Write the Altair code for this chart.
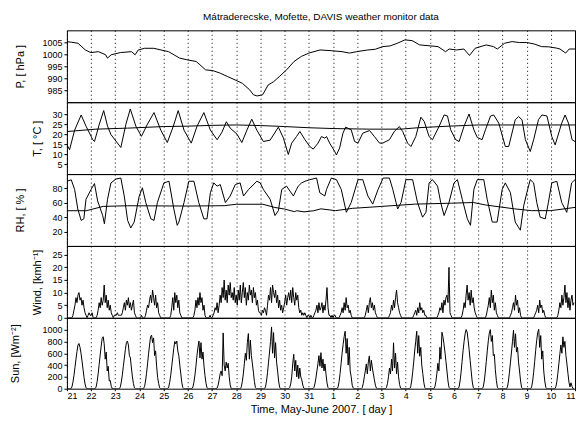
import altair as alt
import pandas as pd

TITLE = "Mátraderecske, Mofette, DAVIS weather monitor data"
XTITLE = "Time, May-June 2007. [ day ]"
day_ticks = list(range(22))  # days since 21 May 2007 00:00

# ---- Pressure [hPa]
P_t = [0, 0.2, 0.46, 0.76, 0.99, 1.30, 1.60, 1.68, 1.83, 2.21, 2.67, 2.82, 2.95, 3.21, 3.59,
       3.89, 4.20, 4.66, 4.96, 5.34, 5.50, 5.73, 6.03, 6.34, 6.64, 6.95, 7.25, 7.56, 7.71, 7.86,
       8.09, 8.32, 8.55, 8.78, 9.08, 9.39, 9.69, 10.0, 10.46, 10.92, 11.37, 11.68, 11.98, 12.44,
       12.75, 13.05, 13.36, 13.66, 13.97, 14.27, 14.58, 15.04, 15.34, 15.65, 15.80, 16.11, 16.41,
       16.64, 16.87, 17.33, 17.63, 17.79, 18.09, 18.40, 18.70, 19.01, 19.31, 19.62, 19.92, 20.23,
       20.38, 20.61, 20.76, 21.0]
P_v = [1005.3, 1005.0, 1004.6, 1001.8, 1000.7, 1001.1, 999.8, 998.4, 999.8, 1000.7, 1001.1, 999.8,
       1001.8, 1002.5, 1002.5, 1001.8, 1001.1, 998.4, 997.7, 997.0, 995.6, 993.5, 993.2, 992.1,
       990.7, 989.3, 987.9, 985.1, 983.1, 982.6, 983.1, 987.2, 988.6, 990.7, 993.5, 997.0, 999.1,
       1000.5, 1001.8, 1001.5, 1001.1, 1000.5, 1001.1, 1001.8, 1002.1, 1003.2, 1003.5, 1004.6,
       1006.0, 1005.7, 1003.9, 1003.5, 1003.2, 1001.1, 1002.2, 1001.8, 1002.2, 999.5, 1002.5,
       1003.9, 1003.2, 1002.2, 1004.6, 1005.3, 1004.9, 1004.9, 1004.3, 1003.2, 1003.1, 1002.6,
       1002.2, 1000.5, 1002.2, 1002.2]

# ---- Temperature [°C]
T_t = [0.00, 0.11, 0.32, 0.59, 0.79, 1.07, 1.14, 1.34, 1.52, 1.68,
       1.82, 2.23, 2.44, 2.62, 2.85, 3.08, 3.33, 3.60, 3.88, 4.15,
       4.40, 4.60, 4.84, 5.14, 5.38, 5.66, 5.93, 6.21, 6.41, 6.59,
       6.75, 7.03, 7.23, 7.44, 7.64, 7.85, 8.12, 8.40, 8.74, 8.95,
       9.15, 9.29, 9.49, 9.63, 9.84, 10.04, 10.18, 10.38, 10.52, 10.66,
       10.73, 10.86, 11.07, 11.14, 11.27, 11.41, 11.52, 11.75, 11.89, 12.03,
       12.23, 12.51, 12.71, 12.92, 13.05, 13.33, 13.53, 13.74, 13.88, 14.08,
       14.22, 14.42, 14.63, 14.77, 14.97, 15.11, 15.38, 15.59, 15.73, 15.86,
       16.07, 16.21, 16.41, 16.62, 16.82, 16.96, 17.16, 17.30, 17.51, 17.64,
       17.85, 18.12, 18.26, 18.53, 18.67, 18.81, 18.95, 19.15, 19.29, 19.49,
       19.63, 19.84, 20.04, 20.18, 20.45, 20.59, 20.73, 20.88, 21.00]
T_v = [14.7, 12.2, 22.0, 29.6, 24.0, 17.2, 16.3, 25.0, 31.8, 24.0,
       19.8, 13.3, 25.0, 32.6, 24.0, 18.9, 25.0, 30.8, 22.0, 15.8,
       24.0, 31.8, 22.0, 15.5, 24.0, 30.8, 22.0, 17.2, 21.0, 26.2,
       23.0, 20.0, 15.8, 22.0, 27.5, 22.0, 16.3, 17.0, 23.5, 18.0,
       9.8, 15.5, 18.8, 21.3, 17.2, 13.8, 12.5, 15.5, 18.8, 18.0,
       18.8, 15.5, 11.3, 9.6, 13.0, 20.5, 23.5, 22.2, 16.3, 15.5,
       20.5, 21.8, 18.8, 15.5, 15.5, 17.2, 21.3, 23.8, 21.3, 15.5,
       13.8, 18.8, 28.5, 26.3, 18.8, 17.2, 23.8, 29.6, 29.1, 22.2,
       17.2, 16.3, 23.8, 30.1, 22.2, 18.4, 17.2, 22.2, 29.1, 29.6,
       25.5, 13.8, 13.8, 27.2, 28.8, 27.2, 17.2, 11.3, 17.2, 27.2,
       29.6, 29.1, 18.8, 14.6, 25.5, 29.6, 25.5, 17.2, 16.3]
T2_t = [0, 1.2, 2.5, 4, 5, 6, 7, 8, 9, 10, 11, 12.5, 13.8, 14.5, 15.8, 17, 18.5, 20, 21]
T2_v = [21.3, 22.5, 23.0, 23.8, 24.0, 24.4, 24.6, 24.3, 23.8, 23.2, 22.8, 22.5, 22.5, 23.2,
        24.0, 24.6, 24.6, 24.6, 24.6]

# ---- Relative humidity [%]
RH_t = [0.00, 0.18, 0.32, 0.45, 0.59, 0.70, 0.79, 1.00, 1.14, 1.27,
        1.48, 1.55, 1.68, 1.82, 2.03, 2.23, 2.37, 2.51, 2.64, 2.78,
        2.99, 3.12, 3.26, 3.47, 3.60, 3.74, 4.01, 4.22, 4.42, 4.56,
        4.63, 4.84, 5.04, 5.25, 5.45, 5.66, 5.79, 5.93, 6.07, 6.21,
        6.34, 6.55, 6.75, 6.96, 7.16, 7.30, 7.51, 7.85, 7.99, 8.12,
        8.40, 8.60, 8.74, 8.88, 9.08, 9.22, 9.36, 9.49, 9.56, 9.70,
        9.84, 10.04, 10.32, 10.45, 10.66, 10.73, 10.93, 11.14, 11.34, 11.55,
        11.75, 12.03, 12.23, 12.44, 12.64, 12.86, 13.07, 13.33, 13.47, 13.67,
        13.81, 14.01, 14.29, 14.49, 14.70, 14.84, 14.97, 15.11, 15.32, 15.45,
        15.59, 15.79, 16.00, 16.14, 16.34, 16.55, 16.68, 16.82, 16.96, 17.23,
        17.37, 17.58, 17.78, 17.99, 18.12, 18.33, 18.53, 18.74, 18.88, 19.01,
        19.15, 19.29, 19.42, 19.56, 19.77, 19.90, 20.04, 20.25, 20.45, 20.66,
        20.86, 21.00]
RH_v = [90, 92, 78.6, 51.4, 35.5, 37.7, 65, 78.6, 86.8, 62.7,
        42.3, 30.9, 65, 87.7, 93.1, 94.5, 69.5, 35.5, 25, 33.2,
        69.5, 80.9, 60.4, 37.7, 35.5, 60.4, 87.7, 90, 51.4, 28.7,
        33.2, 60.4, 90, 90, 60.4, 37.7, 37.7, 74.1, 87.7, 83.2,
        85.4, 60.4, 69.5, 85.4, 87.7, 69.5, 78.6, 90, 87.7, 78.6,
        65, 42.3, 49.1, 78.6, 83.2, 76.3, 69.5, 78.6, 83.2, 87.7,
        90, 92.2, 94.5, 74.1, 69.5, 78.6, 94.5, 92.2, 78.6, 46.8,
        60.4, 92.2, 92.2, 69.5, 58.2, 78.6, 94.5, 94.5, 78.6, 51.4,
        60.4, 92.2, 92.2, 60.4, 40, 46.8, 87.7, 92.2, 83.2, 60.4,
        42.3, 60.4, 87.7, 92.2, 65, 37.7, 28.7, 78.6, 92.2, 92.2,
        65, 33.2, 33.2, 78.6, 87.7, 74.1, 33.2, 21.9, 55.9, 74.1,
        92.2, 87.7, 60.4, 40, 37.7, 60.4, 87.7, 90, 60.4, 46.8,
        87.7, 92.2]
RH2_t = [0, 0.8, 1.5, 2.5, 5, 6.5, 7, 8.1, 8.6, 9, 9.4, 9.5, 9.8, 10.2, 10.5, 11.1, 11.8,
         13.0, 14.4, 15.9, 16.8, 17.3, 18.5, 19.2, 20, 21]
RH2_v = [49, 49, 55, 55.9, 55.5, 56, 58, 58, 53.5, 51.3, 47.7, 49, 47.4, 49, 51.6, 49.1, 52.3,
         55, 58.2, 59.5, 60.4, 57, 51.6, 49.1, 49.1, 53.6]

# ---- Wind [km/h], hourly (00..23 h) for each day 21 May .. 10 June
WIND = [
    [0, 0, 0, 0, 0, 0, 1, 3, 5, 8, 6, 9, 10, 7, 8, 5, 7, 4, 2, 1, 0, 1, 2, 1],
    [1, 2, 0, 0, 0, 0, 1, 3, 6, 4, 8, 5, 7, 13, 6, 9, 4, 7, 3, 5, 2, 1, 0, 1],
    [1, 1, 2, 1, 1, 1, 1, 2, 4, 6, 3, 7, 5, 8, 4, 6, 3, 5, 7, 2, 1, 0, 0, 0],
    [0, 0, 1, 0, 0, 0, 1, 3, 5, 4, 7, 9, 6, 11, 8, 5, 9, 4, 6, 2, 1, 0, 0, 0],
    [0, 0, 0, 0, 0, 0, 0, 1, 4, 8, 3, 10, 6, 9, 4, 7, 2, 1, 0, 0, 0, 0, 0, 0],
    [0, 0, 0, 0, 0, 0, 1, 3, 7, 4, 8, 5, 10, 6, 8, 3, 5, 1, 0, 0, 0, 0, 1, 0],
    [0, 1, 2, 4, 3, 6, 2, 5, 9, 6, 12, 8, 15, 7, 11, 6, 13, 9, 14, 8, 10, 7, 12, 6],
    [9, 5, 11, 7, 13, 6, 10, 14, 8, 12, 5, 10, 7, 13, 9, 11, 6, 12, 8, 10, 5, 7, 3, 2],
    [2, 1, 3, 2, 4, 3, 1, 5, 9, 7, 12, 6, 13, 10, 8, 11, 6, 9, 4, 7, 3, 5, 2, 4],
    [6, 9, 5, 8, 10, 7, 11, 6, 12, 8, 5, 10, 7, 9, 4, 2, 3, 1, 2, 1, 2, 1, 0, 1],
    [1, 0, 1, 0, 0, 1, 2, 3, 5, 2, 6, 3, 4, 6, 2, 5, 3, 7, 12, 4, 1, 1, 0, 1],
    [0, 1, 1, 0, 0, 0, 0, 1, 2, 4, 2, 6, 3, 8, 4, 5, 2, 3, 1, 0, 0, 0, 0, 0],
    [0, 0, 0, 0, 0, 0, 0, 0, 1, 3, 5, 2, 6, 8, 4, 6, 3, 5, 2, 1, 0, 0, 0, 0],
    [0, 0, 0, 0, 0, 0, 0, 0, 1, 2, 5, 3, 7, 4, 8, 11, 6, 4, 2, 1, 0, 0, 0, 0],
    [0, 0, 0, 0, 0, 0, 0, 0, 1, 2, 3, 1, 4, 2, 6, 3, 4, 2, 3, 1, 1, 0, 0, 0],
    [0, 0, 0, 0, 0, 0, 0, 0, 1, 2, 4, 3, 6, 2, 7, 5, 8, 9, 6, 20, 2, 1, 0, 0],
    [0, 0, 0, 0, 0, 0, 0, 0, 1, 3, 6, 4, 9, 13, 7, 10, 5, 11, 6, 8, 4, 2, 1, 0],
    [0, 0, 0, 0, 0, 0, 0, 0, 1, 3, 5, 8, 4, 11, 6, 9, 3, 6, 2, 1, 0, 0, 0, 0],
    [0, 0, 0, 0, 0, 0, 0, 0, 1, 2, 4, 6, 3, 9, 5, 7, 2, 4, 1, 0, 0, 0, 0, 0],
    [0, 0, 0, 0, 0, 0, 0, 0, 1, 2, 3, 5, 2, 7, 4, 5, 2, 3, 1, 0, 0, 0, 0, 0],
    [0, 0, 0, 0, 0, 0, 0, 1, 3, 6, 4, 9, 5, 8, 13, 6, 10, 4, 8, 3, 7, 9, 5, 6],
]

# ---- Solar radiation [W/m2], hourly (00..23 h) for each day
SUN = [
    [0, 0, 0, 0, 0, 30, 110, 220, 360, 500, 630, 740, 765, 700, 600, 470, 330, 190, 80, 15, 0, 0, 0, 0],
    [0, 0, 0, 0, 0, 30, 120, 250, 410, 570, 720, 850, 880, 760, 500, 620, 300, 380, 130, 140, 40, 0, 0, 0],
    [0, 0, 0, 0, 0, 30, 115, 235, 380, 520, 660, 780, 806, 740, 560, 520, 350, 200, 85, 15, 0, 0, 0, 0],
    [0, 0, 0, 0, 0, 35, 130, 260, 420, 590, 740, 880, 906, 780, 860, 560, 640, 380, 190, 90, 15, 0, 0, 0],
    [0, 0, 0, 0, 0, 30, 110, 230, 380, 530, 680, 800, 760, 806, 640, 560, 400, 250, 100, 20, 0, 0, 0, 0],
    [0, 0, 0, 0, 0, 30, 110, 230, 380, 560, 700, 806, 520, 780, 500, 620, 380, 220, 90, 15, 0, 0, 0, 0],
    [0, 0, 0, 0, 0, 10, 60, 150, 250, 300, 220, 944, 400, 300, 450, 350, 430, 200, 60, 0, 0, 0, 0, 0],
    [0, 0, 0, 0, 0, 30, 120, 250, 420, 600, 480, 780, 933, 500, 820, 560, 420, 280, 120, 20, 0, 0, 0, 0],
    [0, 0, 0, 0, 0, 30, 130, 270, 450, 620, 800, 1045, 600, 950, 520, 780, 450, 300, 130, 25, 0, 0, 0, 0],
    [0, 0, 0, 0, 0, 20, 80, 200, 420, 582, 300, 480, 200, 400, 170, 350, 200, 150, 60, 10, 0, 0, 0, 0],
    [0, 0, 0, 0, 0, 20, 80, 180, 300, 420, 560, 380, 610, 350, 500, 300, 420, 250, 100, 20, 0, 0, 0, 0],
    [0, 0, 0, 0, 0, 30, 120, 260, 430, 600, 750, 880, 973, 600, 850, 400, 700, 300, 200, 60, 10, 0, 0, 0],
    [0, 0, 0, 0, 0, 20, 90, 200, 300, 420, 250, 450, 555, 300, 480, 350, 250, 150, 60, 10, 0, 0, 0, 0],
    [0, 0, 0, 0, 0, 20, 90, 200, 350, 250, 500, 300, 777, 350, 600, 250, 450, 200, 70, 10, 0, 0, 0, 0],
    [0, 0, 0, 0, 0, 30, 130, 280, 450, 640, 800, 973, 600, 900, 550, 700, 400, 260, 110, 20, 0, 0, 0, 0],
    [0, 0, 0, 0, 0, 30, 120, 260, 430, 300, 700, 500, 955, 880, 760, 620, 460, 300, 130, 25, 0, 0, 0, 0],
    [0, 0, 0, 0, 0, 30, 130, 280, 460, 650, 800, 930, 1000, 960, 820, 660, 480, 300, 130, 25, 0, 0, 0, 0],
    [0, 0, 0, 0, 0, 30, 130, 280, 460, 640, 810, 940, 1000, 800, 900, 560, 580, 320, 140, 25, 0, 0, 0, 0],
    [0, 0, 0, 0, 0, 30, 130, 280, 450, 620, 800, 990, 700, 930, 620, 700, 450, 300, 130, 25, 0, 0, 0, 0],
    [0, 0, 0, 0, 0, 30, 130, 280, 460, 650, 820, 950, 1005, 700, 900, 500, 640, 300, 130, 25, 0, 0, 0, 0],
    [0, 0, 0, 0, 0, 30, 120, 260, 420, 590, 740, 600, 878, 700, 800, 560, 420, 260, 110, 30, 100, 40, 0, 0],
]

FONT = "Liberation Sans"
W = 509


def hourly(table):
    rows = []
    for d, vals in enumerate(table):
        for h, v in enumerate(vals):
            rows.append({"t": d + h / 24.0, "v": v})
    return pd.DataFrame(rows)


def series(ts, vs):
    return pd.DataFrame({"t": ts, "v": vs})


def xaxis(bottom):
    common = dict(values=day_ticks, grid=True, gridDash=[1, 3], gridColor="black",
                  gridOpacity=1, gridWidth=1, domain=False)
    if bottom:
        return alt.Axis(ticks=True, tickSize=2, tickColor="black", labels=True,
                        labelExpr="datum.value < 11 ? datum.value + 21 : datum.value - 10",
                        labelFont=FONT, labelFontSize=9, labelColor="black", labelPadding=1,
                        labelFlush=True, title=XTITLE, titleFont=FONT, titleFontSize=11,
                        titleFontWeight="normal", titleColor="black", titlePadding=3, **common)
    return alt.Axis(ticks=False, labels=False, title=None, **common)


def yaxis(title, vals, tx):
    return alt.Axis(title=title, values=vals, format="d", grid=False, domain=False, ticks=True,
                    tickSize=3, tickColor="black", labelFont=FONT, labelFontSize=9,
                    labelColor="black", labelPadding=2, titleFont=FONT, titleFontSize=11,
                    titleFontWeight="normal", titleColor="black", titleX=tx,
                    titleBaseline="middle", titleAlign="center")


def panel(dfs, domain, axis, h, bottom=False, title=None):
    layers = []
    for df in dfs:
        layers.append(
            alt.Chart(df).mark_line(color="black", strokeWidth=1, clip=True).encode(
                x=alt.X("t:Q", scale=alt.Scale(domain=[0, 21], nice=False, zero=False),
                        axis=xaxis(bottom)),
                y=alt.Y("v:Q", scale=alt.Scale(domain=domain, nice=False, zero=False),
                        axis=axis),
            )
        )
    c = alt.layer(*layers).properties(width=W, height=h)
    if title is not None:
        c = c.properties(title=title)
    return c


title = alt.TitleParams(TITLE, frame="group", anchor="middle", font=FONT, fontSize=10,
                        fontWeight="normal", color="black", offset=8)

p1 = panel([series(P_t, P_v)], [980, 1010],
           yaxis("P, [ hPa ]", [985, 990, 995, 1000, 1005], -46), 72, title=title)
p2 = panel([series(T_t, T_v), series(T2_t, T2_v)], [0, 36],
           yaxis("T, [ °C ]", [5, 10, 15, 20, 25, 30], -29), 72)
p3 = panel([series(RH_t, RH_v), series(RH2_t, RH2_v)], [0, 100],
           yaxis("RH, [ % ]", [20, 40, 60, 80], -46), 72)
p4 = panel([hourly(WIND)], [0, 28.5],
           yaxis("Wind, [kmh⁻¹]", [0, 5, 10, 15, 20, 25], -29), 72)
p5 = panel([hourly(SUN)], [0, 1200],
           yaxis("Sun, [Wm⁻²]", [0, 200, 400, 600, 800, 1000], -51), 71, bottom=True)

chart = alt.vconcat(p1, p2, p3, p4, p5, spacing=0, bounds="flush").configure_view(
    stroke="black", strokeWidth=1
).properties(padding={"left": 1, "top": 3, "right": 0, "bottom": 0})

chart.save("out.html", embed_options={"renderer": "svg", "actions": False})
